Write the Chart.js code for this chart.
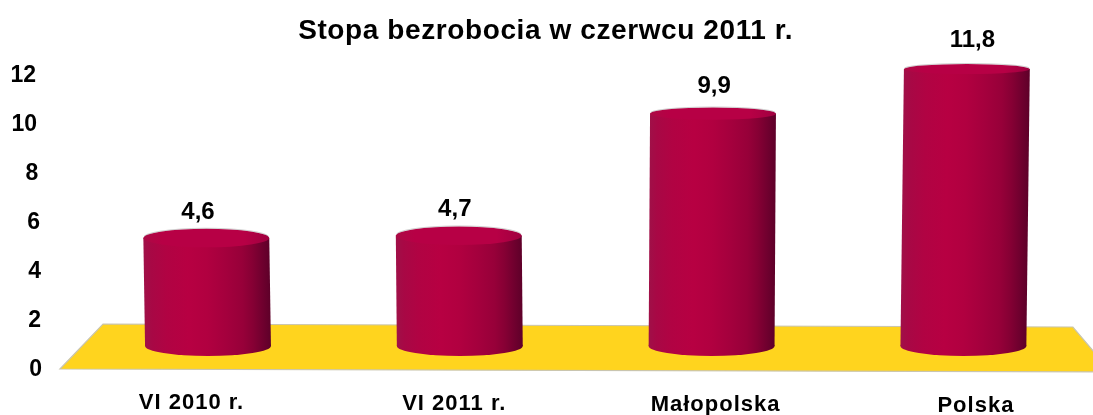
<!DOCTYPE html>
<html lang="pl">
<head>
<meta charset="utf-8">
<style>html,body{margin:0;padding:0;background:#fff}canvas{display:block}</style>
<script src="https://cdn.jsdelivr.net/npm/chart.js@4/dist/chart.umd.js"></script>
</head>
<body>
<canvas id="c" width="1093" height="415"></canvas>
<script>
const titleText = 'Stopa bezrobocia w czerwcu 2011 r.';
const categories = ['VI 2010 r.', 'VI 2011 r.', 'Małopolska', 'Polska'];
const rates = [4.6, 4.7, 9.9, 11.8];
const axisTicks = [0, 2, 4, 6, 8, 10, 12];
// floor plate corners as [category position, axis value]
const floorCorners = [[-0.588, -0.04], [-0.417, 1.796], [3.435, 1.673], [3.586, -0.163]];

// perspective nudges of the original picture
const catNudge = [[-16.5, 1], [-5.5, 2], [4, 3], [12.5, 4]];
const yNudge = [0, -1, -1, -2, -3.7, -5, -6];
const yNudgeDown = 1.5;
const labelNudge = [[-10, -26], [-5, -26.2], [2.5, -27.5], [9, -29]];
const lean = [0.0157, 0.0093, -0.006, -0.0125];

const FONT = 'Liberation Sans, Arial, sans-serif';
const band = (g) => {
  [[0, '#a01048'], [0.06, '#a80845'], [0.18, '#b10343'], [0.35, '#b70042'], [0.5, '#b10040'],
   [0.65, '#a4003d'], [0.78, '#970039'], [0.86, '#860034'], [0.93, '#72002f'], [1, '#5e0029']]
   .forEach(s => g.addColorStop(s[0], s[1]));
  return g;
};
function barGradient(ctx, cx, w) {
  if (!Number.isFinite(cx) || !Number.isFinite(w)) return '#b70042';
  return band(ctx.createLinearGradient(cx - w / 2, 0, cx + w / 2, 0));
}
function spaced(obj, method, spacing, dx = 0, dy = 0) {
  const orig = obj[method];
  obj[method] = function (...a) {
    const ctx = this.ctx, prev = ctx.letterSpacing;
    ctx.letterSpacing = spacing;
    ctx.translate(dx, dy);
    orig.apply(this, a);
    ctx.translate(-dx, -dy);
    ctx.letterSpacing = prev;
  };
}
const noPad = (s) => { s.paddingTop = s.paddingBottom = s.paddingLeft = s.paddingRight = 0; };

const origBarDraw = Chart.registry.getElement('bar').prototype.draw;
Chart.registry.getElement('bar').prototype.draw = function (ctx) {
  const k = lean[this.$context ? this.$context.dataIndex : 0] || 0;
  ctx.save();
  ctx.transform(1, 0, k, 1, -k * this.base, 0);
  origBarDraw.call(this, ctx);
  ctx.restore();
};

const scene = {
  id: 'scene',
  beforeDraw(chart) {
    const { x, y } = chart.scales;
    if (!x._nudged) {
      x.getLabelItems().forEach((it, i) => {
        const t = it.options.translation;
        it.options.translation = [t[0] + catNudge[i][0], t[1] + catNudge[i][1]];
      });
      y.getLabelItems().forEach((it, i) => {
        const t = it.options.translation;
        it.options.translation = [t[0] + yNudge[i], t[1] + yNudgeDown];
      });
      spaced(x, 'drawLabels', '1px');
      spaced(chart.titleBlock, 'draw', '0.6px', 1, 1);
      x._nudged = true;
    }
  },
  beforeDatasetsDraw(chart) {
    const { ctx } = chart;
    const { x, y } = chart.scales;
    ctx.save();
    ctx.beginPath();
    floorCorners.forEach((c, i) => {
      const px = x.getPixelForValue(c[0]), py = y.getPixelForValue(c[1]);
      i ? ctx.lineTo(px, py) : ctx.moveTo(px, py);
    });
    ctx.closePath();
    ctx.fillStyle = '#ffd41e';
    ctx.fill();
    ctx.strokeStyle = '#c9c5b0';
    ctx.lineWidth = 1.2;
    ctx.stroke();
    chart.getDatasetMeta(0).data.forEach((b) => {
      ctx.beginPath();
      ctx.ellipse(b.x, b.base, b.width / 2, 10, 0, 0, Math.PI * 2);
      ctx.fillStyle = barGradient(ctx, b.x, b.width);
      ctx.fill();
    });
    ctx.restore();
  },
  afterDatasetsDraw(chart) {
    const { ctx } = chart;
    ctx.save();
    chart.getDatasetMeta(0).data.forEach((b, i) => {
      const cx = b.x + lean[i] * (b.y - b.base);
      const ry = 5 + (b.y - 68) * 4.3 / 170;
      ctx.beginPath();
      ctx.ellipse(cx, b.y, b.width / 2, ry, 0, 0, Math.PI * 2);
      const g = ctx.createLinearGradient(cx - b.width / 2, 0, cx + b.width / 2, 0);
      g.addColorStop(0, '#ac0a45'); g.addColorStop(0.15, '#b70045');
      g.addColorStop(0.8, '#b70045'); g.addColorStop(1, '#a00040');
      ctx.fillStyle = g;
      ctx.fill();
      ctx.strokeStyle = 'rgba(120,120,120,0.35)';
      ctx.lineWidth = 1;
      ctx.beginPath();
      ctx.ellipse(cx, b.y - 0.5, b.width / 2, ry, 0, Math.PI * 1.05, Math.PI * 1.95);
      ctx.stroke();
      ctx.fillStyle = '#000';
      ctx.font = 'bold 24px ' + FONT;
      ctx.textAlign = 'center';
      ctx.textBaseline = 'middle';
      ctx.fillText(rates[i].toFixed(1).replace('.', ','), b.x + labelNudge[i][0], b.y + labelNudge[i][1]);
    });
    ctx.restore();
  }
};

new Chart(document.getElementById('c'), {
  type: 'bar',
  data: {
    labels: categories,
    datasets: [{
      data: rates,
      yAxisID: 'bars',
      clip: false,
      barPercentage: 0.5,
      categoryPercentage: 1,
      backgroundColor: (c) => {
        const xs = c.chart.scales.x;
        if (!xs || c.dataIndex === undefined) return '#b70042';
        return barGradient(c.chart.ctx, xs.getPixelForValue(c.dataIndex), 126);
      },
      borderWidth: 0
    }]
  },
  options: {
    responsive: false,
    animation: false,
    events: [],
    layout: { padding: { left: 0, right: 3.7, top: 0, bottom: 0 } },
    plugins: {
      legend: { display: false },
      tooltip: { enabled: false },
      title: {
        display: true,
        text: titleText,
        color: '#000',
        font: { family: FONT, size: 28, weight: 'bold', lineHeight: 1.2 },
        padding: { top: 13.2, bottom: 0 }
      }
    },
    scales: {
      x: {
        grid: { display: false },
        border: { display: false },
        afterFit: (s) => { s.height = 47; noPad(s); },
        ticks: { color: '#000', font: { family: FONT, size: 22, weight: 'bold' }, maxRotation: 0, autoSkip: false, padding: 13 }
      },
      y: {
        position: 'left',
        min: 0,
        max: 13.11,
        grid: { display: false },
        border: { display: false },
        afterFit: (s) => { s.width = 82.1; noPad(s); },
        afterBuildTicks: (s) => { s.ticks = axisTicks.map(v => ({ value: v })); },
        ticks: { color: '#000', font: { family: FONT, size: 23, weight: 'bold' }, padding: 32 }
      },
      bars: {
        display: false,
        position: 'left',
        min: -0.937,
        max: 12.748
      }
    }
  },
  plugins: [scene]
});
</script>
</body>
</html>
